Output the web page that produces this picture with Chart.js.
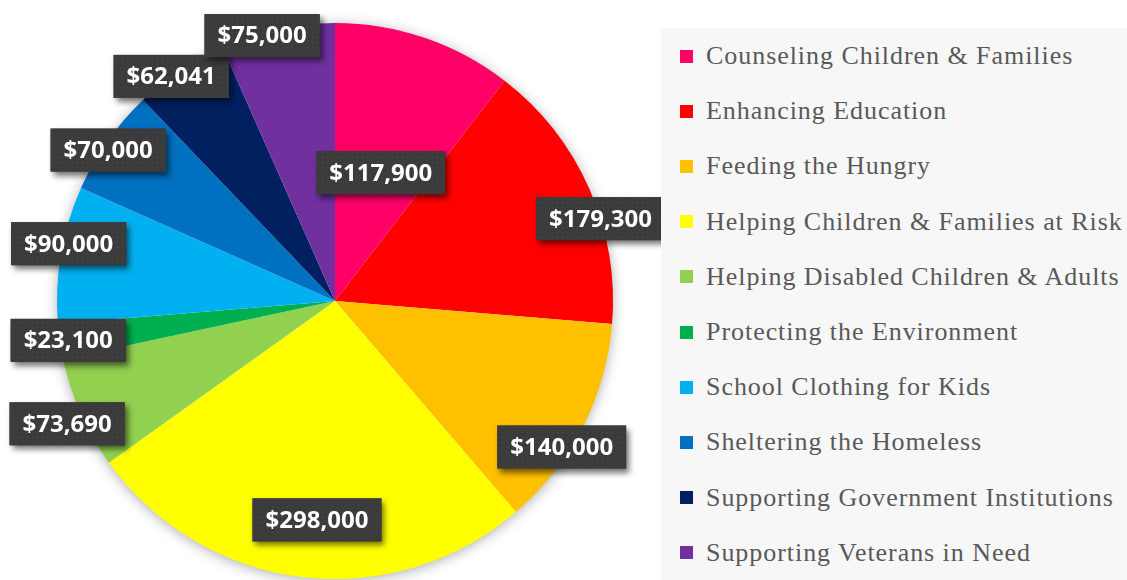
<!DOCTYPE html>
<html>
<head>
<meta charset="utf-8">
<script src="https://cdn.jsdelivr.net/npm/chart.js@4/dist/chart.umd.min.js"></script>
<style>
  html, body { margin: 0; padding: 0; background: #ffffff; }
  #wrap { position: relative; width: 1127px; height: 580px; overflow: hidden; }
  #c { position: absolute; left: 0; top: 0; }
  #legend {
    position: absolute; left: 661px; top: 28px; width: 466px; height: 552px;
    background: #f7f7f7;
  }
  .item {
    position: absolute; left: 19px; height: 30px; display: flex; align-items: center;
    font-family: "Liberation Serif", "Times New Roman", serif; font-size: 26px; color: #595959;
    letter-spacing: 0.95px; white-space: nowrap;
  }
  .sw { width: 13px; height: 13px; margin-right: 13px; flex: none; }
</style>
</head>
<body>
<div id="wrap">
  <canvas id="c" width="1127" height="580"></canvas>
  <div id="legend"></div>
</div>
<script>
const categories = [
  "Counseling Children & Families",
  "Enhancing Education",
  "Feeding the Hungry",
  "Helping Children & Families at Risk",
  "Helping Disabled Children & Adults",
  "Protecting the Environment",
  "School Clothing for Kids",
  "Sheltering the Homeless",
  "Supporting Government Institutions",
  "Supporting Veterans in Need"
];
const amounts = [117900, 179300, 140000, 298000, 73690, 23100, 90000, 70000, 62041, 75000];
const sliceColors = ["#FF0066", "#FF0000", "#FFC000", "#FFFF00", "#92D050", "#00B050", "#00B0F0", "#0070C0", "#002060", "#7030A0"];
// label placement relative to each slice: [radius factor, angle nudge in degrees]
const labelPlacement = [[0.49, 0.8], [1.0, 6.6], [0.97, 5.7], [0.79, -2.2], [1.06, -0.8], [0.97, 0], [0.98, 2.5], [0.98, -1.5], [1.0, -2.3], [0.99, -3.4]];

function fmt(v) { return "$" + v.toLocaleString("en-US"); }

// HTML legend built from the arrays
const legend = document.getElementById("legend");
categories.forEach((c, i) => {
  const d = document.createElement("div");
  d.className = "item";
  d.style.top = (13 + i * 55.2) + "px";
  const s = document.createElement("span");
  s.className = "sw"; s.style.background = sliceColors[i];
  const t = document.createElement("span");
  t.textContent = c;
  d.appendChild(s); d.appendChild(t);
  legend.appendChild(d);
});

function makePattern(ctx) {
  const p = document.createElement("canvas");
  p.width = 5; p.height = 5;
  const pc = p.getContext("2d");
  pc.fillStyle = "#3b3b3b"; pc.fillRect(0, 0, 5, 5);
  pc.fillStyle = "#4a4a4a"; pc.fillRect(2, 2, 1, 1);
  return ctx.createPattern(p, "repeat");
}

const shadowPlugin = {
  id: "pieShadow",
  beforeDatasetsDraw(chart) {
    const arc = chart.getDatasetMeta(0).data[0];
    if (!arc) return;
    const { x, y, outerRadius } = arc.getProps(["x", "y", "outerRadius"], true);
    const ctx = chart.ctx;
    ctx.save();
    ctx.shadowColor = "rgba(0,0,0,0.35)";
    ctx.shadowBlur = 14;
    ctx.shadowOffsetX = 0;
    ctx.shadowOffsetY = 2;
    ctx.fillStyle = "#ffffff";
    ctx.beginPath();
    ctx.arc(x, y, outerRadius - 1, 0, Math.PI * 2);
    ctx.fill();
    ctx.restore();
  }
};

const labelPlugin = {
  id: "boxLabels",
  afterDatasetsDraw(chart) {
    const ctx = chart.ctx;
    const meta = chart.getDatasetMeta(0);
    const pattern = makePattern(ctx);
    ctx.save();
    ctx.font = "bold 24px 'Open Sans', sans-serif";
    ctx.textAlign = "center";
    ctx.textBaseline = "middle";
    meta.data.forEach((arc, i) => {
      const p = arc.getProps(["x", "y", "startAngle", "endAngle", "outerRadius"], true);
      const [f, nudge] = labelPlacement[i];
      const a = (p.startAngle + p.endAngle) / 2 + nudge * Math.PI / 180;
      const cx = p.x + Math.cos(a) * p.outerRadius * f;
      const cy = p.y + Math.sin(a) * p.outerRadius * f;
      const txt = fmt(amounts[i]);
      const w = ctx.measureText(txt).width + 26;
      const h = 43;
      ctx.save();
      ctx.shadowColor = "rgba(0,0,0,0.55)";
      ctx.shadowBlur = 6;
      ctx.shadowOffsetX = 3;
      ctx.shadowOffsetY = 4;
      ctx.fillStyle = "#3b3b3b";
      ctx.fillRect(cx - w / 2, cy - h / 2, w, h);
      ctx.restore();
      ctx.fillStyle = pattern;
      ctx.fillRect(cx - w / 2, cy - h / 2, w, h);
      ctx.fillStyle = "#ffffff";
      ctx.fillText(txt, cx, cy + 1);
    });
    ctx.restore();
  }
};

new Chart(document.getElementById("c"), {
  type: "pie",
  data: {
    labels: categories,
    datasets: [{
      data: amounts,
      backgroundColor: sliceColors,
      borderWidth: 0
    }]
  },
  options: {
    responsive: false,
    animation: false,
    layout: { padding: { left: 57, top: 23, right: 514, bottom: 1 } },
    plugins: {
      legend: { display: false },
      tooltip: { enabled: false }
    }
  },
  plugins: [shadowPlugin, labelPlugin]
});
</script>
</body>
</html>
